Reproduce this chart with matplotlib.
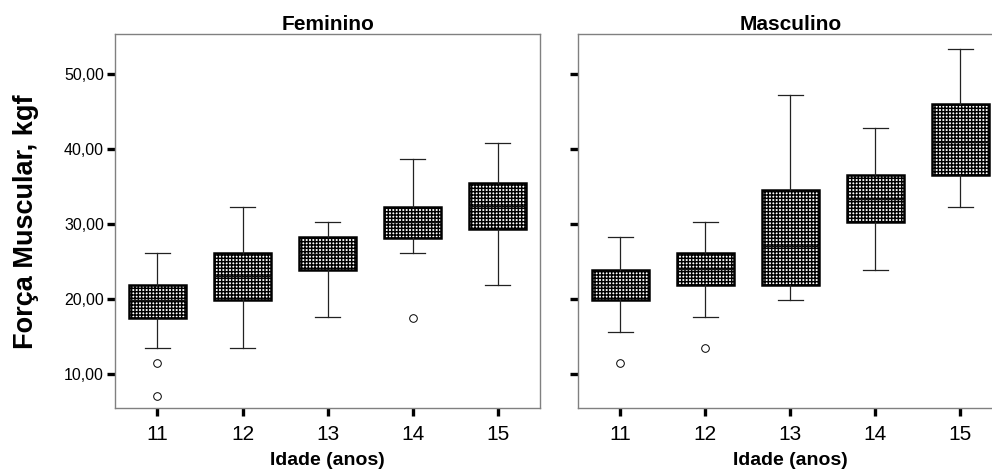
import matplotlib
matplotlib.use("Agg")
import matplotlib.pyplot as plt
from matplotlib.ticker import FuncFormatter

# Idade (anos) on the x axis
ages = [11, 12, 13, 14, 15]

# Feminino - box plot values (kgf)
fem_whislo = [13.5, 13.5, 17.6, 26.1, 21.9]
fem_q1 = [17.5, 19.8, 23.9, 28.1, 29.3]
fem_med = [19.8, 23.0, 26.0, 30.2, 32.4]
fem_q3 = [21.9, 26.1, 28.2, 32.3, 35.4]
fem_whishi = [26.1, 32.2, 30.2, 38.6, 40.8]
fem_fliers = [[11.5, 7.1], [], [], [17.5], []]

# Masculino
masc_whislo = [15.6, 17.6, 19.8, 23.9, 32.2]
masc_q1 = [19.8, 21.9, 21.9, 30.2, 36.5]
masc_med = [21.9, 24.0, 27.1, 33.3, 41.0]
masc_q3 = [23.9, 26.1, 34.5, 36.5, 46.0]
masc_whishi = [28.2, 30.2, 47.2, 42.8, 53.3]
masc_fliers = [[11.5], [13.5], [], [], []]

yticks = [10, 20, 30, 40, 50]

plt.rcParams['font.family'] = ['Liberation Sans', 'DejaVu Sans']
plt.rcParams['hatch.linewidth'] = 1.05


def make_stats(wlo, q1, med, q3, whi, fl):
    stats = []
    for i in range(len(med)):
        stats.append(dict(whislo=wlo[i], q1=q1[i], med=med[i], q3=q3[i],
                          whishi=whi[i], fliers=fl[i]))
    return stats


fig = plt.figure(figsize=(9.92, 4.71), dpi=100)
ax1 = fig.add_axes([0.1159, 0.1331, 0.4287, 0.794])
ax2 = fig.add_axes([0.5824, 0.1331, 0.4287, 0.794])

panels = [
    (ax1, "Feminino", make_stats(fem_whislo, fem_q1, fem_med, fem_q3, fem_whishi, fem_fliers)),
    (ax2, "Masculino", make_stats(masc_whislo, masc_q1, masc_med, masc_q3, masc_whishi, masc_fliers)),
]

for ax, title, stats in panels:
    ax.bxp(stats, positions=ages, widths=0.667, patch_artist=True,
           boxprops=dict(facecolor='white', edgecolor='black', linewidth=1.8, hatch='+++++'),
           medianprops=dict(color='#111111', linewidth=1.0),
           whiskerprops=dict(color='#222222', linewidth=0.9),
           capprops=dict(color='#222222', linewidth=0.9),
           capwidths=0.3,
           flierprops=dict(marker='o', markersize=5.5, markerfacecolor='white',
                           markeredgecolor='black', markeredgewidth=0.7))
    ax.set_xlim(10.5, 15.5)
    ax.set_ylim(5.4, 55.3)
    ax.set_xticks(ages)
    ax.set_xticklabels([str(a) for a in ages], fontsize=15)
    ax.set_yticks(yticks)
    ax.yaxis.set_major_formatter(FuncFormatter(lambda v, p: f"{v:.2f}".replace('.', ',')))
    ax.tick_params(axis='both', length=6, width=2.4, color='black', direction='out')
    ax.tick_params(axis='y', labelsize=11.5, pad=2)
    ax.tick_params(axis='x', pad=6)
    for s in ax.spines.values():
        s.set_color('#808080')
        s.set_linewidth(1.0)
    ax.set_title(title, fontsize=15, fontweight='bold', pad=3)
    ax.set_xlabel("Idade (anos)", fontsize=14, fontweight='bold', labelpad=6)

ax2.tick_params(axis='y', labelleft=False)
ax1.set_ylabel("Força Muscular, kgf", fontsize=19.5, fontweight='bold', labelpad=18)

fig.savefig("out.png", dpi=100)
